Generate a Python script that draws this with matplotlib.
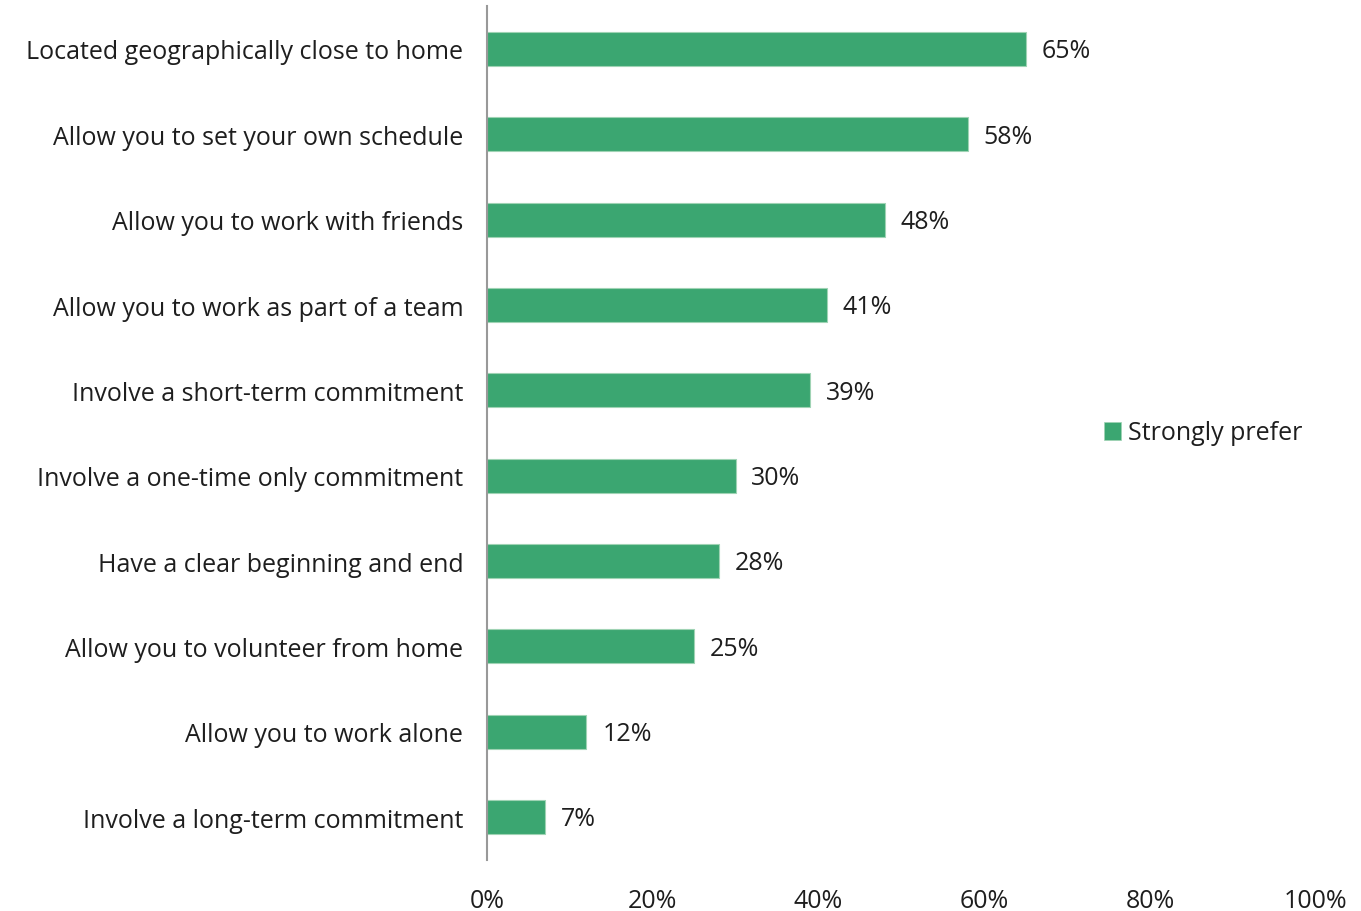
import matplotlib
matplotlib.use("Agg")
import matplotlib.pyplot as plt
from matplotlib.patches import Patch

plt.rcParams['font.family'] = ['Open Sans', 'DejaVu Sans']

categories = [
    "Located geographically close to home",
    "Allow you to set your own schedule",
    "Allow you to work with friends",
    "Allow you to work as part of a team",
    "Involve a short-term commitment",
    "Involve a one-time only commitment",
    "Have a clear beginning and end",
    "Allow you to volunteer from home",
    "Allow you to work alone",
    "Involve a long-term commitment",
]
values = [65, 58, 48, 41, 39, 30, 28, 25, 12, 7]
xticks = [0, 20, 40, 60, 80, 100]
xtick_labels = ["0%", "20%", "40%", "60%", "80%", "100%"]
series_name = "Strongly prefer"

bar_color = "#3ba671"
text_color = "#1e1e1e"
fs = 18

fig = plt.figure(figsize=(13.61, 9.12), dpi=100)
ax = fig.add_axes([0.3578, 0.0562, 0.6091, 0.9358])

ypos = list(range(len(categories)))
ax.barh(ypos, values, height=0.4, color=bar_color,
        edgecolor="#9fd3b4", linewidth=0.8)

for y, v in zip(ypos, values):
    ax.text(v + 1.9, y + 0.02, f"{v}%", va="center", ha="left",
            fontsize=fs, color=text_color)

ax.set_ylim(len(categories) - 0.5, -0.5)
ax.set_xlim(0, 100)
ax.set_yticks(ypos)
ax.set_yticklabels(categories, fontsize=fs, color=text_color)
ax.set_xticks(xticks)
ax.set_xticklabels(xtick_labels, fontsize=fs, color=text_color)
ax.tick_params(axis="both", length=0)
ax.tick_params(axis="x", pad=20.5)
ax.tick_params(axis="y", pad=17)

for side in ["top", "right", "bottom"]:
    ax.spines[side].set_visible(False)
ax.spines["left"].set_color("#999999")
ax.spines["left"].set_linewidth(1.5)

handle = Patch(facecolor=bar_color, edgecolor="#9fd3b4", linewidth=0.5)
fig.legend([handle], [series_name], loc="center left",
           bbox_to_anchor=(1081 / 1361, 1 - 434 / 912), frameon=False,
           fontsize=fs, handlelength=0.7, handleheight=0.7,
           handletextpad=0.3, labelcolor=text_color)

fig.savefig("out.png", dpi=100, facecolor="white")
